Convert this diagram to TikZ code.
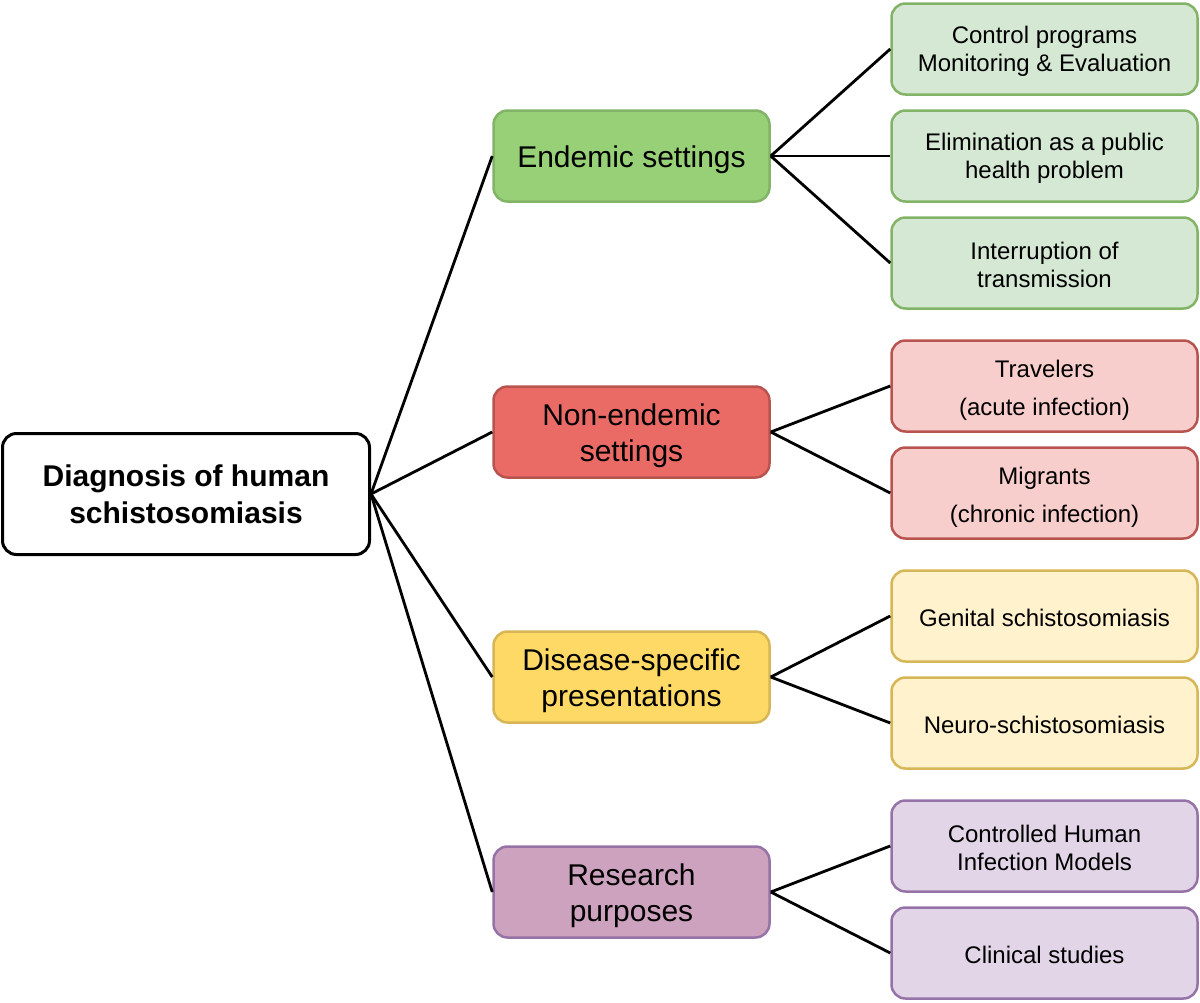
\documentclass[tikz,border=0pt]{standalone}
\usepackage{fontspec}
\setmainfont{Liberation Sans}
\definecolor{gfillM}{HTML}{97D077}
\definecolor{gfillR}{HTML}{D5E8D4}
\definecolor{gline}{HTML}{82B366}
\definecolor{rfillM}{HTML}{EA6B66}
\definecolor{rfillR}{HTML}{F8CECC}
\definecolor{rline}{HTML}{B85450}
\definecolor{yfillM}{HTML}{FFD966}
\definecolor{yfillR}{HTML}{FFF2CC}
\definecolor{yline}{HTML}{D6B656}
\definecolor{pfillM}{HTML}{CDA2BE}
\definecolor{pfillR}{HTML}{E1D5E7}
\definecolor{pline}{HTML}{9673A6}
\tikzset{
  box/.style={rectangle, rounded corners=14pt, line width=2.5pt, align=center, inner sep=0pt},
  rootbox/.style={box, draw=black, line width=3pt, fill=white, minimum width=367pt, minimum height=121pt,
    font=\fontsize{30}{37}\selectfont\bfseries},
  midbox/.style={box, minimum width=276pt, minimum height=91pt},
  rightbox/.style={box, minimum width=306pt, minimum height=91pt},
  midtxt/.style={align=center, inner sep=0pt, yshift=-4pt, font=\fontsize{30}{36}\selectfont},
  righttxt/.style={align=center, inner sep=0pt, yshift=-2pt, font=\fontsize{24}{28}\selectfont},
  widetxt/.style={align=center, inner sep=0pt, yshift=-4pt, font=\fontsize{24}{38}\selectfont},
  conn/.style={line width=2.8pt, draw=black}
}
\begin{document}
\begin{tikzpicture}[x=1pt,y=-1pt]
\useasboundingbox (0,0) rectangle (1200,1002);
\node[rootbox] (root) at (186,494) {Diagnosis of human\\schistosomiasis};
% mid level
\node[midbox, fill=gfillM, draw=gline, label={[midtxt]center:Endemic settings}] (end) at (631.5,156) {};
\node[midbox, fill=rfillM, draw=rline, label={[midtxt]center:Non-endemic\\settings}] (non) at (631.5,432) {};
\node[midbox, fill=yfillM, draw=yline, label={[midtxt]center:Disease-specific\\presentations}] (dis) at (631.5,677) {};
\node[midbox, fill=pfillM, draw=pline, label={[midtxt]center:Research\\purposes}] (res) at (631.5,892) {};
% right level
\node[rightbox, fill=gfillR, draw=gline, label={[righttxt]center:Control programs\\Monitoring \& Evaluation}] (ctrl) at (1044.5,49) {};
\node[rightbox, fill=gfillR, draw=gline, label={[righttxt]center:Elimination as a public\\health problem}] (elim) at (1044.5,156) {};
\node[rightbox, fill=gfillR, draw=gline, label={[righttxt]center:Interruption of\\transmission}] (intr) at (1044.5,263) {};
\node[rightbox, fill=rfillR, draw=rline, label={[widetxt]center:Travelers\\(acute infection)}] (trav) at (1044.5,386) {};
\node[rightbox, fill=rfillR, draw=rline, label={[widetxt]center:Migrants\\(chronic infection)}] (migr) at (1044.5,493) {};
\node[rightbox, fill=yfillR, draw=yline, label={[righttxt]center:Genital schistosomiasis}] (gen) at (1044.5,616) {};
\node[rightbox, fill=yfillR, draw=yline, label={[righttxt]center:Neuro-schistosomiasis}] (neuro) at (1044.5,723) {};
\node[rightbox, fill=pfillR, draw=pline, label={[righttxt]center:Controlled Human\\Infection Models}] (chim) at (1044.5,846) {};
\node[rightbox, fill=pfillR, draw=pline, label={[righttxt]center:Clinical studies}] (clin) at (1044.5,953) {};
% connectors
\foreach \m in {end,non,dis,res} \draw[conn] (root.east) -- (\m.west);
\foreach \r in {ctrl,elim,intr} \draw[conn] (end.east) -- (\r.west);
\foreach \r in {trav,migr} \draw[conn] (non.east) -- (\r.west);
\foreach \r in {gen,neuro} \draw[conn] (dis.east) -- (\r.west);
\foreach \r in {chim,clin} \draw[conn] (res.east) -- (\r.west);
\end{tikzpicture}
\end{document}
